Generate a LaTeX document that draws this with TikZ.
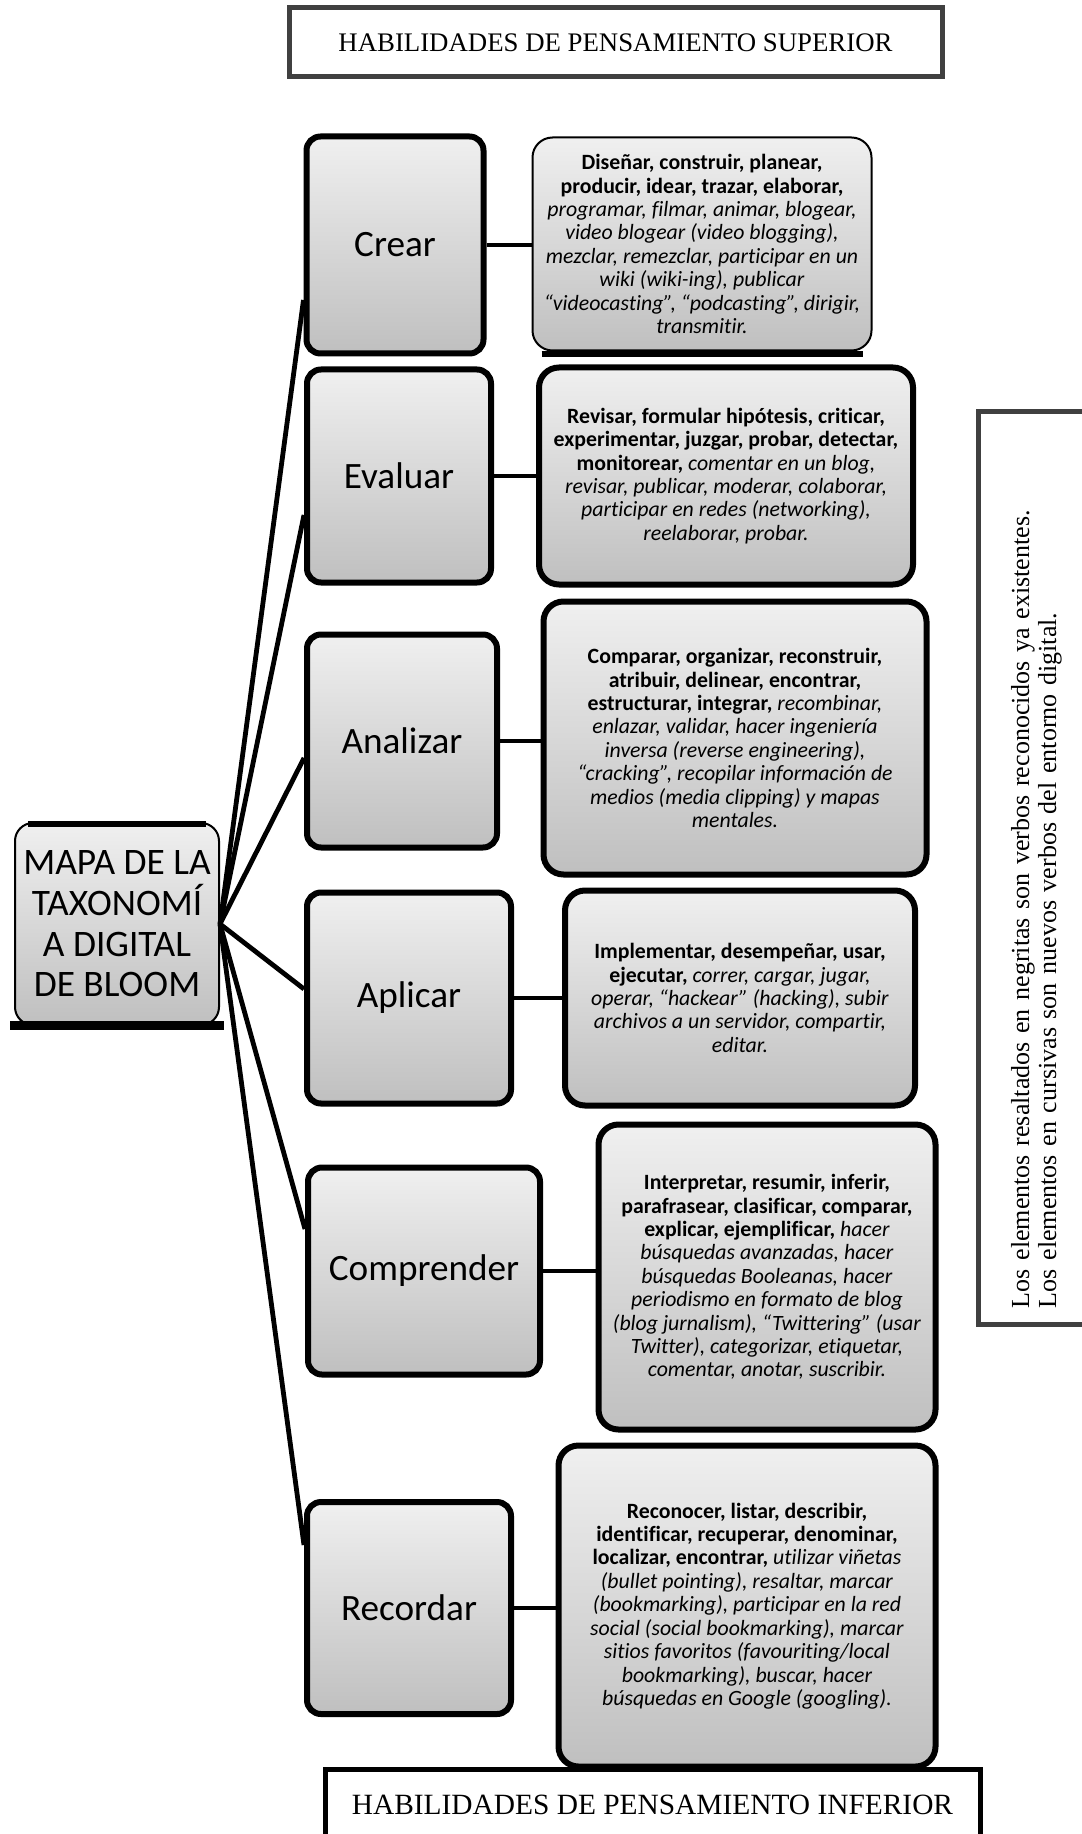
\documentclass[tikz,border=0pt]{standalone}
\usepackage{fontspec}
\setmainfont{Liberation Serif}
\newfontfamily\calibri[Ligatures=NoCommon]{Carlito}

\begin{document}
\begin{tikzpicture}[x=0.5pt,y=-0.5pt,
  stage/.style={draw=black, line width=3pt, rounded corners=7pt,
    top color=gray!12, bottom color=gray!50,
    font=\calibri\fontsize{18.6}{20}\selectfont},
  verbs/.style={draw=black, line width=3pt, rounded corners=10pt,
    top color=gray!12, bottom color=gray!50, align=center,
    font=\calibri\fontsize{10.9}{11.7}\selectfont},
  banner/.style={draw, line width=2.5pt, font=\fontsize{13.4}{15}\selectfont},
  link/.style={line width=2.4pt}]
  \useasboundingbox (0,0) rectangle (1081,1834);

  \node[banner, draw=black!75, minimum width=326.5pt, minimum height=34.5pt] (superior) at (615.5,42.5)
    {HABILIDADES DE PENSAMIENTO SUPERIOR};
  \node[banner, draw=black, minimum width=327.5pt, minimum height=36pt, font=\fontsize{14.7}{16}\selectfont] (inferior) at (652.5,1805)
    {HABILIDADES DE PENSAMIENTO INFERIOR};

  \node[rotate=90, draw=black!75, line width=2.5pt, minimum width=456pt, minimum height=58.5pt,
    text width=440pt, inner xsep=8pt, align=left, font=\fontsize{13}{13.5}\selectfont] (nota) at (1036.5,868)
    {Los elementos resaltados en negritas son verbos reconocidos ya existentes.\\
     Los elementos en cursivas son nuevos verbos del entorno digital.};

  % root
  \node[draw, line width=1pt, rounded corners=9pt, top color=gray!12, bottom color=gray!50,
    minimum width=102pt, minimum height=101pt, align=center,
    font=\calibri\fontsize{18.7}{20.3}\selectfont] (root) at (117,924)
    {MAPA DE LA\\TAXONOMÍ\\A DIGITAL\\DE BLOOM};
  \draw[line width=3pt] ([xshift=7pt,yshift=-1pt]root.north west) -- ([xshift=-7pt,yshift=-1pt]root.north east);
  \draw[line width=4.5pt] ([xshift=-2pt,yshift=0.5pt]root.south west) -- ([xshift=2pt,yshift=0.5pt]root.south east);

  % levels
  \node[stage, minimum width=88.5pt, minimum height=108.5pt] (crear) at (395,245) {Crear};
  \node[stage, minimum width=92pt, minimum height=106.5pt] (evaluar) at (399,476) {Evaluar};
  \node[stage, minimum width=95pt, minimum height=106.5pt] (analizar) at (402,741) {Analizar};
  \node[stage, minimum width=102pt, minimum height=105.5pt] (aplicar) at (409,998) {Aplicar};
  \node[stage, minimum width=116pt, minimum height=103.5pt] (comprender) at (424,1271) {Comprender};
  \node[stage, minimum width=102pt, minimum height=106pt] (recordar) at (409,1608) {Recordar};

  % verbs
  \node[verbs, line width=1pt, minimum width=169.5pt, minimum height=106.5pt] (vcrear) at (702,244)
    {\textbf{Diseñar, construir, planear,}\\
     \textbf{producir, idear, trazar, elaborar,}\\
     \textit{programar, filmar, animar, blogear,}\\
     \textit{video blogear (video blogging),}\\
     \textit{mezclar, remezclar, participar en un}\\
     \textit{wiki (wiki-ing), publicar}\\
     \textit{“videocasting”, “podcasting”, dirigir,}\\
     \textit{transmitir.}};
  \draw[line width=3pt] ([xshift=5pt,yshift=-1.5pt]vcrear.south west) -- ([xshift=-5pt,yshift=-1.5pt]vcrear.south east);
  \node[verbs, minimum width=187pt, minimum height=108.5pt] (vevaluar) at (726,476)
    {\textbf{Revisar, formular hipótesis, criticar,}\\
     \textbf{experimentar, juzgar, probar, detectar,}\\
     \textbf{monitorear,} \textit{comentar en un blog,}\\
     \textit{revisar, publicar, moderar, colaborar,}\\
     \textit{participar en redes (networking),}\\
     \textit{reelaborar, probar.}};
  \node[verbs, minimum width=191.5pt, minimum height=136.5pt] (vanalizar) at (735,738)
    {\textbf{Comparar, organizar, reconstruir,}\\
     \textbf{atribuir, delinear, encontrar,}\\
     \textbf{estructurar, integrar,} \textit{recombinar,}\\
     \textit{enlazar, validar, hacer ingeniería}\\
     \textit{inversa (reverse engineering),}\\
     \textit{“cracking”, recopilar información de}\\
     \textit{medios (media clipping) y mapas}\\
     \textit{mentales.}};
  \node[verbs, minimum width=175pt, minimum height=107.5pt] (vaplicar) at (740,998)
    {\textbf{Implementar, desempeñar, usar,}\\
     \textbf{ejecutar,} \textit{correr, cargar, jugar,}\\
     \textit{operar, “hackear” (hacking), subir}\\
     \textit{archivos a un servidor, compartir,}\\
     \textit{editar.}};
  \node[verbs, minimum width=168.5pt, minimum height=152.5pt] (vcomprender) at (767,1277)
    {\textbf{Interpretar, resumir, inferir,}\\
     \textbf{parafrasear, clasificar, comparar,}\\
     \textbf{explicar, ejemplificar,} \textit{hacer}\\
     \textit{búsquedas avanzadas, hacer}\\
     \textit{búsquedas Booleanas, hacer}\\
     \textit{periodismo en formato de blog}\\
     \textit{(blog jurnalism), “Twittering” (usar}\\
     \textit{Twitter), categorizar, etiquetar,}\\
     \textit{comentar, anotar, suscribir.}};
  \node[verbs, minimum width=188.5pt, minimum height=160.5pt] (vrecordar) at (747,1606)
    {\textbf{Reconocer, listar, describir,}\\
     \textbf{identificar, recuperar, denominar,}\\
     \textbf{localizar, encontrar,} \textit{utilizar viñetas}\\
     \textit{(bullet pointing), resaltar, marcar}\\
     \textit{(bookmarking), participar en la red}\\
     \textit{social (social bookmarking), marcar}\\
     \textit{sitios favoritos (favouriting/local}\\
     \textit{bookmarking), buscar, hacer}\\
     \textit{búsquedas en Google (googling).}};

  % connectors
  \draw[link] (root.east) -- ([yshift=-27.5pt]crear.west);
  \draw[link] (root.east) -- ([yshift=-19.5pt]evaluar.west);
  \draw[link] (root.east) -- ([yshift=-8.5pt]analizar.west);
  \draw[link] (root.east) -- ([yshift=4.5pt]aplicar.west);
  \draw[link] (root.east) -- ([yshift=21pt]comprender.west);
  \draw[link] (root.east) -- ([yshift=31.5pt]recordar.west);

  \draw[link] (crear.east) -- (vcrear.west |- crear.east);
  \draw[link] (evaluar.east) -- (vevaluar.west |- evaluar.east);
  \draw[link] (analizar.east) -- (vanalizar.west |- analizar.east);
  \draw[link] (aplicar.east) -- (vaplicar.west |- aplicar.east);
  \draw[link] (comprender.east) -- (vcomprender.west |- comprender.east);
  \draw[link] (recordar.east) -- (vrecordar.west |- recordar.east);
\end{tikzpicture}
\end{document}
